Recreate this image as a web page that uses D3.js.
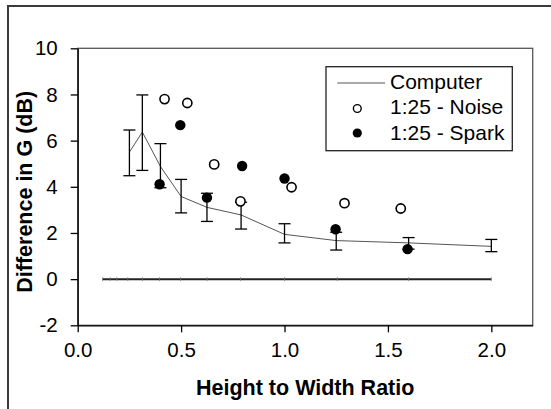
<!DOCTYPE html>
<html>
<head>
<meta charset="utf-8">
<script src="https://cdn.jsdelivr.net/npm/d3@7"></script>
<style>
  body { margin: 0; background: #fff; }
  text { font-family: "Liberation Sans", Arial, sans-serif; }
</style>
</head>
<body>
<div id="chart"></div>
<script>
// computer model: mean with error bars
const computerX = [0.25, 0.3125, 0.4, 0.5, 0.625, 0.79, 1.0, 1.25, 1.6, 2.0]
const computerMean = [5.5, 6.37, 4.88, 3.58, 3.11, 2.78, 1.94, 1.67, 1.57, 1.42]
const computerHi = [6.46, 7.98, 5.87, 4.32, 3.72, 3.33, 2.4, 2.03, 1.8, 1.72]
const computerLo = [4.48, 4.71, 3.96, 2.87, 2.5, 2.17, 1.57, 1.26, 1.3, 1.19]

// 1:25 model measurements
const noiseX = [0.42, 0.53, 0.66, 0.787, 1.034, 1.29, 1.562]
const noiseY = [7.8, 7.63, 4.97, 3.37, 3.98, 3.29, 3.06]
const sparkX = [0.396, 0.496, 0.625, 0.795, 1.0, 1.247, 1.595]
const sparkY = [4.11, 6.67, 3.53, 4.9, 4.36, 2.16, 1.3]

// zero reference line
const zeroX = [0.12, 0.157, 0.189, 0.242, 0.313, 0.396, 0.497, 0.625, 0.787, 1.0, 1.255, 1.6, 2.0]

const xTicks = [0, 0.5, 1.0, 1.5, 2.0]
const yTicks = [-2, 0, 2, 4, 6, 8, 10]
const legendLabels = ["Computer", "1:25 - Noise", "1:25 - Spark"]

const width = 551, height = 409
const margin = {top: 48.3, right: 18.3, bottom: 83.7, left: 77.7}
const plotW = width - margin.left - margin.right,
  plotH = height - margin.top - margin.bottom

const svg = d3.select("#chart").append("svg")
  .attr("width", width)
  .attr("height", height)

// outer frame (top and left edges visible)
svg.append("path")
  .attr("d", `M8,${height} L8,6 L${width},6`)
  .attr("fill", "none")
  .attr("stroke", "#3a3a3a")
  .attr("stroke-width", 2)

const g = svg.append("g")
  .attr("transform", `translate(${margin.left},${margin.top})`)

const x = d3.scaleLinear().domain([0, 2.2]).range([0, plotW])
const y = d3.scaleLinear().domain([-2, 10]).range([plotH, 0])

// plot border
g.append("rect")
  .attr("width", plotW)
  .attr("height", plotH)
  .attr("fill", "none")
  .attr("stroke", "#555")
  .attr("stroke-width", 1.3)

// axes
const xAxis = g.append("g")
  .attr("transform", `translate(0,${plotH})`)
  .call(d3.axisBottom(x).tickValues(xTicks).tickFormat(d => d.toFixed(1))
    .tickSize(7).tickSizeOuter(0).tickPadding(10))
const yAxis = g.append("g")
  .call(d3.axisLeft(y).tickValues(yTicks).tickFormat(d => String(d))
    .tickSize(7).tickSizeOuter(0).tickPadding(13))

for (const ax of [xAxis, yAxis]) {
  ax.select(".domain").attr("stroke", "#000").attr("stroke-width", 1.3)
  ax.selectAll(".tick line").attr("stroke", "#000").attr("stroke-width", 1.3)
  ax.selectAll(".tick text")
    .attr("font-family", "'Liberation Sans', Arial, sans-serif")
    .attr("font-size", 20.5)
    .attr("fill", "#000")
}

// axis titles
g.append("text")
  .attr("x", x(1.1))
  .attr("y", 347)
  .attr("text-anchor", "middle")
  .attr("font-size", 21.5)
  .attr("font-weight", "bold")
  .text("Height to Width Ratio")

g.append("text")
  .attr("transform", `translate(-53,${y(4) + 5}) rotate(-90)`)
  .attr("text-anchor", "middle")
  .attr("dy", "0.35em")
  .attr("font-size", 21.5)
  .attr("font-weight", "bold")
  .text("Difference in G (dB)")

// zero line with small ticks
g.append("line")
  .attr("x1", x(d3.min(zeroX))).attr("x2", x(d3.max(zeroX)))
  .attr("y1", y(0)).attr("y2", y(0))
  .attr("stroke", "#222")
  .attr("stroke-width", 2)
g.selectAll(".zero-tick")
  .data(zeroX)
  .join("line")
  .attr("class", "zero-tick")
  .attr("x1", d => x(d)).attr("x2", d => x(d))
  .attr("y1", y(0) - 2).attr("y2", y(0) + 2)
  .attr("stroke", "#777")
  .attr("stroke-width", 0.7)

// computer line
const computer = computerX.map((d, i) => ({x: d, m: computerMean[i], hi: computerHi[i], lo: computerLo[i]}))

g.append("path")
  .datum(computer)
  .attr("fill", "none")
  .attr("stroke", "#555")
  .attr("stroke-width", 1)
  .attr("d", d3.line().x(d => x(d.x)).y(d => y(d.m)))

// error bars
const capW = 6
const bars = g.selectAll(".err")
  .data(computer)
  .join("g")
  .attr("class", "err")
  .attr("stroke", "#000")
  .attr("stroke-width", 1.3)
bars.append("line")
  .attr("x1", d => x(d.x)).attr("x2", d => x(d.x))
  .attr("y1", d => y(d.hi)).attr("y2", d => y(d.lo))
bars.append("line")
  .attr("x1", d => x(d.x) - capW).attr("x2", d => x(d.x) + capW)
  .attr("y1", d => y(d.hi)).attr("y2", d => y(d.hi))
bars.append("line")
  .attr("x1", d => x(d.x) - capW).attr("x2", d => x(d.x) + capW)
  .attr("y1", d => y(d.lo)).attr("y2", d => y(d.lo))

// points
g.selectAll(".noise")
  .data(noiseX.map((d, i) => [d, noiseY[i]]))
  .join("circle")
  .attr("class", "noise")
  .attr("cx", d => x(d[0]))
  .attr("cy", d => y(d[1]))
  .attr("r", 4.6)
  .attr("fill", "#fff")
  .attr("stroke", "#000")
  .attr("stroke-width", 1.6)

g.selectAll(".spark")
  .data(sparkX.map((d, i) => [d, sparkY[i]]))
  .join("circle")
  .attr("class", "spark")
  .attr("cx", d => x(d[0]))
  .attr("cy", d => y(d[1]))
  .attr("r", 5.2)
  .attr("fill", "#000")

// legend
const lg = svg.append("g")
lg.append("rect")
  .attr("x", 326).attr("y", 66.7)
  .attr("width", 186.3).attr("height", 84)
  .attr("fill", "#fff")
  .attr("stroke", "#222")
  .attr("stroke-width", 1.3)
const rowY = [81.5, 107, 132.5]
lg.append("line")
  .attr("x1", 337.3).attr("x2", 385)
  .attr("y1", rowY[0] + 1.5).attr("y2", rowY[0] + 1.5)
  .attr("stroke", "#555").attr("stroke-width", 1)
lg.append("circle")
  .attr("cx", 357.3).attr("cy", rowY[1] + 1.5).attr("r", 3.9)
  .attr("fill", "#fff").attr("stroke", "#000").attr("stroke-width", 1.4)
lg.append("circle")
  .attr("cx", 357.3).attr("cy", rowY[2] + 0.5).attr("r", 4.6)
  .attr("fill", "#000")
lg.selectAll(".lg-text")
  .data(legendLabels)
  .join("text")
  .attr("class", "lg-text")
  .attr("x", 390)
  .attr("y", (d, i) => rowY[i])
  .attr("dy", "0.35em")
  .attr("font-size", 21)
  .text(d => d)
</script>
</body>
</html>
